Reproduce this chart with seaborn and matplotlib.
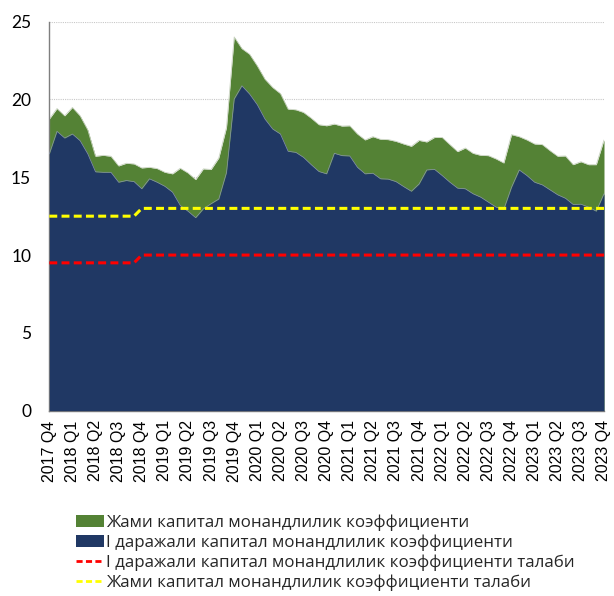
import matplotlib
matplotlib.use("Agg")
import matplotlib.pyplot as plt
import seaborn as sns
import numpy as np
import pandas as pd
from matplotlib.patches import Patch
from matplotlib.lines import Line2D

quarter_labels = ["2017 Q4",
                  "2018 Q1", "2018 Q2", "2018 Q3", "2018 Q4",
                  "2019 Q1", "2019 Q2", "2019 Q3", "2019 Q4",
                  "2020 Q1", "2020 Q2", "2020 Q3", "2020 Q4",
                  "2021 Q1", "2021 Q2", "2021 Q3", "2021 Q4",
                  "2022 Q1", "2022 Q2", "2022 Q3", "2022 Q4",
                  "2023 Q1", "2023 Q2", "2023 Q3", "2023 Q4"]

# monthly values, Dec 2017 .. Dec 2023
total_car = [18.74, 19.42, 18.95, 19.49, 18.95, 18.04, 16.35, 16.41, 16.35, 15.73, 15.90, 15.86,
             15.60, 15.64, 15.56, 15.32, 15.22, 15.58, 15.28, 14.85, 15.54, 15.50, 16.24, 18.20,
             24.02, 23.27, 22.91, 22.16, 21.30, 20.77, 20.38, 19.38, 19.34, 19.17, 18.80, 18.38,
             18.31, 18.42, 18.29, 18.31, 17.78, 17.40, 17.61, 17.44, 17.42, 17.31, 17.14, 16.99,
             17.37, 17.27, 17.56, 17.56, 17.10, 16.65, 16.88, 16.54, 16.41, 16.39, 16.18, 15.92,
             17.74, 17.61, 17.40, 17.14, 17.10, 16.71, 16.35, 16.37, 15.81, 16.00, 15.81, 15.81,
             17.40]
tier1_car = [16.50, 17.95, 17.52, 17.78, 17.35, 16.50, 15.35, 15.32, 15.32, 14.68, 14.79, 14.72,
             14.26, 14.90, 14.68, 14.42, 14.04, 13.19, 12.82, 12.40, 12.97, 13.30, 13.60, 15.30,
             20.03, 20.88, 20.35, 19.66, 18.74, 18.10, 17.78, 16.67, 16.60, 16.28, 15.81, 15.37,
             15.22, 16.54, 16.39, 16.37, 15.64, 15.22, 15.26, 14.90, 14.88, 14.72, 14.40, 14.10,
             14.57, 15.47, 15.51, 15.11, 14.68, 14.30, 14.26, 13.94, 13.72, 13.40, 13.08, 12.95,
             14.36, 15.47, 15.11, 14.68, 14.51, 14.19, 13.87, 13.65, 13.25, 13.27, 13.08, 12.82,
             13.94]
tier1_req = [9.5, 9.5, 9.5, 9.5, 9.5, 9.5, 9.5, 9.5, 9.5, 9.5, 9.5, 9.5,
             10, 10, 10, 10, 10, 10, 10, 10, 10, 10, 10, 10,
             10, 10, 10, 10, 10, 10, 10, 10, 10, 10, 10, 10,
             10, 10, 10, 10, 10, 10, 10, 10, 10, 10, 10, 10,
             10, 10, 10, 10, 10, 10, 10, 10, 10, 10, 10, 10,
             10, 10, 10, 10, 10, 10, 10, 10, 10, 10, 10, 10,
             10]
total_req = [12.5, 12.5, 12.5, 12.5, 12.5, 12.5, 12.5, 12.5, 12.5, 12.5, 12.5, 12.5,
             13, 13, 13, 13, 13, 13, 13, 13, 13, 13, 13, 13,
             13, 13, 13, 13, 13, 13, 13, 13, 13, 13, 13, 13,
             13, 13, 13, 13, 13, 13, 13, 13, 13, 13, 13, 13,
             13, 13, 13, 13, 13, 13, 13, 13, 13, 13, 13, 13,
             13, 13, 13, 13, 13, 13, 13, 13, 13, 13, 13, 13,
             13]

labels = ["Жами капитал монандлилик коэффициенти",
          "I даражали капитал монандлилик коэффициенти",
          "I даражали капитал монандлилик коэффициенти талаби",
          "Жами капитал монандлилик коэффициенти талаби"]

GREEN = "#548235"
NAVY = "#203864"
RED = "#FF0000"
YELLOW = "#FFFF00"

sns.set_theme(style="white")
plt.rcParams['font.family'] = ['Liberation Sans', 'DejaVu Sans']

df = pd.DataFrame({"t": np.arange(len(total_car)),
                   "total": total_car, "tier1": tier1_car,
                   "tier1_req": tier1_req, "total_req": total_req})

fig = plt.figure(figsize=(6.14, 5.96), dpi=100)
ax = fig.add_axes([0.0803, 0.311, 0.9034, 0.6526])

ax.fill_between(df["t"], 0, df["total"], color=GREEN, lw=0, zorder=2)
ax.fill_between(df["t"], 0, df["tier1"], color=NAVY, lw=0, zorder=3)
ax.plot(df["t"], df["total"], color="#c9d3c0", lw=0.6, zorder=2.5)
ax.plot(df["t"], df["tier1"], color="#8a96ad", lw=0.5, zorder=3.5)

sns.lineplot(data=df, x="t", y="tier1_req", ax=ax, color=RED, lw=2.2,
             dashes=False, zorder=4)
sns.lineplot(data=df, x="t", y="total_req", ax=ax, color=YELLOW, lw=2.2,
             dashes=False, zorder=4)
for ln in ax.lines[-2:]:
    ln.set_linestyle((0, (2.6, 1.4)))
    ln.set_dash_joinstyle("round")
    ln.set_dash_capstyle("butt")

ax.set_xlim(0, len(total_car) - 1)
ax.set_ylim(0, 25)
ax.set_xticks(np.arange(0, len(total_car), 3))
ax.set_xticklabels(quarter_labels, rotation=90, fontsize=11.5,
                   family=['Liberation Sans', 'DejaVu Sans'])
ax.set_yticks([0, 5, 10, 15, 20, 25])
ax.set_yticklabels(["0", "5", "10", "15", "20", "25"], fontsize=12.5,
                   family=['Lato', 'DejaVu Sans'])
ax.set_xlabel("")
ax.set_ylabel("")

ax.yaxis.grid(True, color="#c8c8c8", lw=0.8, ls=(0, (1, 1)), zorder=1)
ax.set_axisbelow(True)
for s in ["top", "right"]:
    ax.spines[s].set_visible(False)
for s in ["left", "bottom"]:
    ax.spines[s].set_color("#7f7f7f")
    ax.spines[s].set_linewidth(1.0)
ax.tick_params(axis="both", which="both", direction="out", length=5,
               color="#7f7f7f", width=1.0, labelcolor="#000000")
ax.tick_params(axis="x", pad=2)
ax.tick_params(axis="y", pad=8)

handles = [Patch(facecolor=GREEN, edgecolor="none"),
           Patch(facecolor=NAVY, edgecolor="none"),
           Line2D([0], [0], color=RED, lw=2, ls=(0, (2.2, 1.2))),
           Line2D([0], [0], color=YELLOW, lw=2, ls=(0, (2.2, 1.2)))]
leg = fig.legend(handles, labels, loc="lower left",
                 bbox_to_anchor=(0.108, -0.008), frameon=False,
                 prop={"family": ['Open Sans', 'DejaVu Sans'], "size": 12.2},
                 handlelength=1.6, handleheight=0.65, handletextpad=0.12,
                 labelspacing=0.2, borderaxespad=0.2)

fig.savefig("out.png", dpi=100)
